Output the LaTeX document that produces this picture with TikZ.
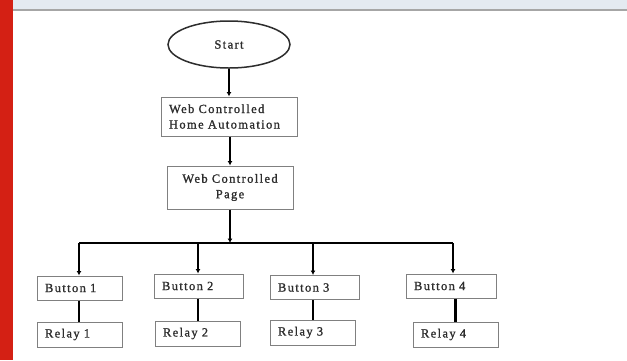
\documentclass[tikz,border=0pt]{standalone}
\usepackage{fontspec}
\setmainfont{Liberation Serif}[LetterSpace=11,FakeBold=1.2]
\usetikzlibrary{shapes.geometric,arrows.meta}

\definecolor{barred}{RGB}{212,32,20}
\definecolor{bandblue}{RGB}{228,234,241}
\definecolor{bandline}{RGB}{166,166,166}
\definecolor{boxgray}{RGB}{128,128,128}
\definecolor{inkgray}{RGB}{45,45,45}

\tikzset{
	box/.style={draw=boxgray, line width=1pt, inner xsep=8pt, align=left, font=\fontsize{12.5}{15.5}\selectfont, text=inkgray},
	small/.style={box, minimum height=24pt, anchor=center},
	arr/.style={line width=2.2pt, -{Latex[length=4.5pt,width=5pt]}},
	link/.style={line width=2.2pt}
}

\begin{document}
\begin{tikzpicture}[x=1pt,y=-1pt]

		\useasboundingbox (0,0) rectangle (627,360);
		\fill[white] (0,0) rectangle (627,360);
		\fill[bandblue] (0,0) rectangle (627,9);
		\fill[bandline] (0,9) rectangle (627,11);
		\fill[barred] (0,0) rectangle (13,360);

		\node[ellipse, draw=inkgray, line width=1.5pt, minimum width=122pt, minimum height=47pt, font=\fontsize{12.5}{15}\selectfont, text=inkgray] (start) at (229,44.5) {Start};
		\node[box, text width=120pt, minimum height=39pt] (home) at (229,116.5) {Web Controlled\\Home Automation};
		\node[box, align=center, text width=110pt, minimum height=43pt] (page) at (230,187.5) {Web Controlled\\Page};

		\node[small, text width=69pt] (b1) at (79.5,288) {Button 1};
		\node[small, text width=73pt] (b2) at (198.5,286) {Button 2};
		\node[small, text width=73pt] (b3) at (314.5,287.5) {Button 3};
		\node[small, text width=74pt] (b4) at (451,286) {Button 4};

		\node[small, text width=69pt, minimum height=25pt] (r1) at (79.5,334.5) {Relay 1};
		\node[small, text width=69pt, minimum height=25pt] (r2) at (197.5,333.5) {Relay 2};
		\node[small, text width=69pt, minimum height=25pt] (r3) at (312.5,332.5) {Relay 3};
		\node[small, text width=69pt, minimum height=25pt] (r4) at (455.5,334.5) {Relay 4};

		\coordinate (jc) at (230,243);
		\coordinate (j1) at (79,243); \coordinate (j2) at (198,243);
		\coordinate (j3) at (313,243); \coordinate (j4) at (453,243);

		\draw[arr] (start) to (home);
		\draw[arr] (home.south -| page) to (page);
		\draw[arr] (page) to (jc);
		\draw[link] (j1) to (j4);
		\draw[arr] (j1) to (j1 |- b1.north); \draw[arr] (j2) to (j2 |- b2.north);
		\draw[arr] (j3) to (j3 |- b3.north); \draw[arr] (j4) to (j4 |- b4.north);

		\draw[link] (b1.south -| j1) to (j1 |- r1.north); \draw[link] (b2.south -| j2) to (j2 |- r2.north);
		\draw[link] (b3.south -| j3) to (j3 |- r3.north);
		\draw[link] (r4.north |- b4.south) to (r4.north);

	\end{tikzpicture}
\end{document}
